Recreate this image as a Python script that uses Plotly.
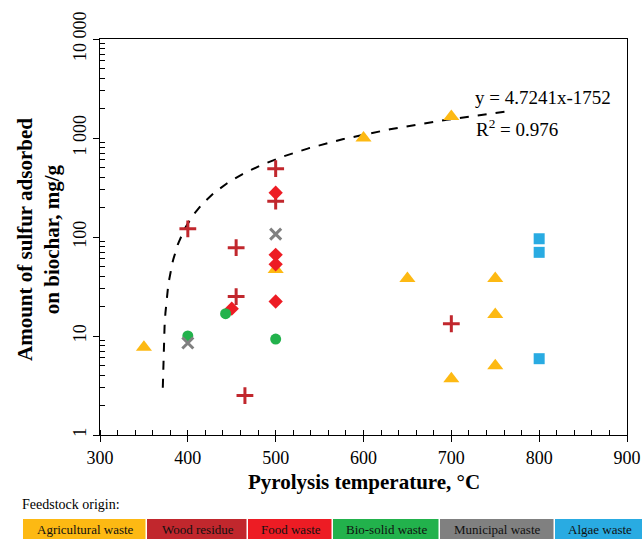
import numpy as np
import plotly.graph_objects as go

# ---- data ----
agri_x = [350, 500, 600, 650, 700, 700, 750, 750, 750]
agri_y = [7.7, 47, 1000, 38, 1650, 3.7, 38, 16.5, 5.0]
wood_x = [400, 455, 455, 465, 500, 500, 700]
wood_y = [121, 78, 25, 2.5, 490, 230, 13.3]
food_x = [450, 500, 500, 500, 500]
food_y = [18.9, 280, 66, 53, 22.3]
bio_x = [400, 443, 500]
bio_y = [10, 16.8, 9.3]
muni_x = [400, 500]
muni_y = [8.5, 107]
algae_x = [800, 800, 800]
algae_y = [96, 70, 5.9]

slope, intercept = 4.7241, -1752
trend_start, trend_end = 371.5, 770

y_tickvals = [1, 10, 100, 1000, 10000]
y_ticktext = ["1", "10", "100", "1 000", "10 000"]
y_minor_mult = [2, 3, 4, 5, 6, 7, 8, 9]
x_tickvals = [300, 400, 500, 600, 700, 800, 900]

legend_labels = ["Agricultural waste", "Wood residue", "Food waste",
                 "Bio-solid waste", "Municipal waste", "Algae waste"]
legend_colors = ["#FDB913", "#C1272D", "#ED1C24", "#22B24C", "#808080", "#29ABE2"]
legend_edges_px = [21, 145, 246, 331, 438, 553, 642]

SERIF = "Liberation Serif, Times New Roman, serif"

S = 642 / 631.0          # horizontal compensation
W, H = 653, 539
ML = 98 * S
MR = W - 625 * S
MT, MB = 39, 104
PW, PH = W - ML - MR, H - MT - MB

def px2paper_x(px):
    return (px * S - ML) / PW

def px2paper_y(py):
    return (H - MB - py) / PH

y_minor_vals = [m * t for t in y_tickvals[:-1] for m in y_minor_mult]

fig = go.Figure()

tx = np.linspace(trend_start, trend_end, 400)
ty = slope * tx + intercept
fig.add_trace(go.Scatter(x=tx, y=ty, mode="lines",
                         line=dict(color="black", width=2, dash="dash"),
                         hoverinfo="skip", showlegend=False))

def add_pts(x, y, symbol, color, size, line=None):
    m = dict(symbol=symbol, color=color, size=size)
    m["line"] = line if line else dict(width=0)
    fig.add_trace(go.Scatter(x=x, y=y, mode="markers", marker=m, showlegend=False))

add_pts(agri_x, agri_y, "triangle-up", legend_colors[0], 14)
add_pts(wood_x, wood_y, "cross-thin", legend_colors[1], 12, dict(color=legend_colors[1], width=3))
add_pts(food_x, food_y, "diamond", legend_colors[2], 11)
add_pts(bio_x, bio_y, "circle", legend_colors[3], 11)
add_pts(muni_x, muni_y, "x-thin", legend_colors[4], 11, dict(color=legend_colors[4], width=3))
add_pts(algae_x, algae_y, "square", legend_colors[5], 11)

annotations = [
    dict(text="y = 4.7241x-1752", x=px2paper_x(471), y=px2paper_y(97), xref="paper", yref="paper",
         xanchor="left", yanchor="middle", showarrow=False, font=dict(family=SERIF, size=19, color="black")),
    dict(text="R<sup>2</sup> = 0.976", x=px2paper_x(472), y=px2paper_y(128), xref="paper", yref="paper",
         xanchor="left", yanchor="middle", showarrow=False, font=dict(family=SERIF, size=19, color="black")),
    dict(text="<b>Amount of sulfur adsorbed<br>on biochar, mg/g</b>", x=px2paper_x(36), y=px2paper_y(240),
         xref="paper", yref="paper", xanchor="center", yanchor="middle", textangle=-90, showarrow=False,
         font=dict(family=SERIF, size=21, color="black")),
    dict(text="<b>Pyrolysis temperature, °C</b>", x=px2paper_x(362), y=px2paper_y(482),
         xref="paper", yref="paper", xanchor="center", yanchor="middle", showarrow=False,
         font=dict(family=SERIF, size=21, color="black")),
    dict(text="Feedstock origin:", x=px2paper_x(18), y=px2paper_y(505),
         xref="paper", yref="paper", xanchor="left", yanchor="middle", showarrow=False,
         font=dict(family=SERIF, size=14, color="black")),
]

shapes = []
for i, (lab, col) in enumerate(zip(legend_labels, legend_colors)):
    x0, x1 = legend_edges_px[i], legend_edges_px[i + 1]
    shapes.append(dict(type="rect", xref="paper", yref="paper",
                       x0=px2paper_x(x0), x1=px2paper_x(x1 - 1.5),
                       y0=px2paper_y(539), y1=px2paper_y(519),
                       fillcolor=col, line=dict(width=0), layer="above"))
    annotations.append(dict(text=lab, x=px2paper_x((x0 + x1) / 2), y=px2paper_y(529),
                            xref="paper", yref="paper", xanchor="center", yanchor="middle",
                            showarrow=False, font=dict(family=SERIF, size=13, color="#111111")))

fig.update_layout(
    width=W, height=H, autosize=False,
    margin=dict(l=ML, r=MR, t=MT, b=MB),
    paper_bgcolor="white", plot_bgcolor="white",
    showlegend=False,
    annotations=annotations,
    shapes=shapes,
    xaxis=dict(range=[300, 900], tickvals=x_tickvals, ticks="outside", ticklen=6,
               tickcolor="black", tickwidth=1, showline=True, linecolor="black", linewidth=1,
               mirror=True, showgrid=False, zeroline=False,
               tickfont=dict(family=SERIF, size=18, color="black"),
               minor=dict(dtick=20, ticks="inside", ticklen=5, tickcolor="black", showgrid=False)),
    yaxis=dict(type="log", range=[0, 4], tickvals=y_tickvals, ticktext=y_ticktext,
               ticks="outside", ticklen=6, tickcolor="black", tickwidth=1, tickangle=-90,
               showline=True, linecolor="black", linewidth=1, mirror=True,
               showgrid=False, zeroline=False,
               tickfont=dict(family=SERIF, size=18, color="black"),
               minor=dict(tickvals=y_minor_vals, ticks="inside", ticklen=5,
                          tickcolor="black", showgrid=False)),
)

fig.write_html(
    "out.html",
    config={"responsive": False},
    post_script="document.documentElement.style.overflow='hidden';document.body.style.margin='0';document.body.style.overflow='hidden';",
)
